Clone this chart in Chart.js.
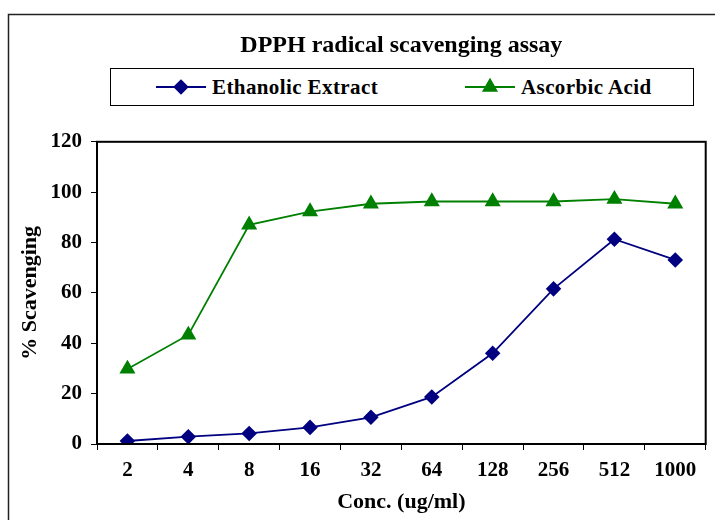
<!DOCTYPE html>
<html>
<head>
<meta charset="utf-8">
<script src="https://cdn.jsdelivr.net/npm/chart.js@4/dist/chart.umd.min.js"></script>
<style>
html, body { margin: 0; padding: 0; background: #fff; }
#wrap { position: relative; width: 715px; height: 520px; overflow: hidden; }
#legend { position: absolute; left: 110px; top: 68px; width: 582px; height: 36px; border: 1px solid #000; background: #fff; }
#legend .item { position: absolute; top: 0; height: 36px; display: flex; align-items: center; font: bold 21px "Liberation Serif", serif; letter-spacing: 0.4px; color: #000; white-space: nowrap; }
#legend .item canvas { margin-right: 6px; }
</style>
</head>
<body>
<div id="wrap">
<canvas id="lineChart" width="715" height="520"></canvas>
<div id="legend"></div>
</div>
<script>
var concLabels = ['2', '4', '8', '16', '32', '64', '128', '256', '512', '1000'];
var ethanolicExtract = [1.2, 2.9, 4.2, 6.6, 10.6, 18.7, 36, 61.6, 81.3, 73.1];
var ascorbicAcid = [29.8, 43.3, 87, 92.3, 95.4, 96.3, 96.3, 96.3, 97.2, 95.4];
var seriesNames = ['Ethanolic Extract', 'Ascorbic Acid'];
var legendLeft = [45, 354];

var serif = '"Liberation Serif", "Times New Roman", serif';

// outer chart frame + plot area box
var framePlugin = {
	id : 'framePlugin',
	beforeDraw : function(chart) {
		var ctx = chart.ctx;
		ctx.save();
		ctx.fillStyle = '#fff';
		ctx.fillRect(0, 0, chart.width, chart.height);
		ctx.strokeStyle = '#222';
		ctx.lineWidth = 1.5;
		ctx.strokeRect(8.5, 14.5, 1000, 1000);
		ctx.restore();
	},
	afterDatasetsDraw : function(chart) {
		var a = chart.chartArea;
		var ctx = chart.ctx;
		ctx.save();
		ctx.strokeStyle = '#000';
		ctx.lineWidth = 2;
		ctx.strokeRect(a.left, a.top, a.right - a.left, a.bottom - a.top);
		ctx.restore();
	}
};

var htmlLegend = {
	id : 'htmlLegend',
	afterUpdate : function(chart) {
		var box = document.getElementById('legend');
		box.innerHTML = '';
		var items = chart.options.plugins.legend.labels.generateLabels(chart);
		items.forEach(function(item, i) {
			var ds = chart.data.datasets[item.datasetIndex];
			var span = document.createElement('span');
			span.className = 'item';
			span.style.left = legendLeft[i] + 'px';
			var icon = document.createElement('canvas');
			icon.width = 50;
			icon.height = 18;
			var c = icon.getContext('2d');
			c.strokeStyle = ds.borderColor;
			c.lineWidth = ds.borderWidth;
			c.beginPath();
			c.moveTo(0, 9);
			c.lineTo(50, 9);
			c.stroke();
			c.fillStyle = ds.pointBackgroundColor;
			c.strokeStyle = ds.pointBorderColor;
			Chart.helpers.drawPoint(c, {
				pointStyle : ds.pointStyle,
				radius : ds.pointRadius,
				borderWidth : 1
			}, 25, 9);
			span.appendChild(icon);
			span.appendChild(document.createTextNode(item.text));
			box.appendChild(span);
		});
	}
};

var ctx = document.getElementById('lineChart');
var lineChart = new Chart(ctx, {
	type : 'line',
	data : {
		labels : concLabels,
		datasets : [ {
			label : seriesNames[0],
			data : ethanolicExtract,
			borderColor : '#000080',
			backgroundColor : '#000080',
			pointBackgroundColor : '#000080',
			pointBorderColor : '#000080',
			pointStyle : 'rectRot',
			pointRadius : 6.5,
			borderWidth : 1.8,
			tension : 0
		}, {
			label : seriesNames[1],
			data : ascorbicAcid,
			borderColor : '#008000',
			backgroundColor : '#008000',
			pointBackgroundColor : '#008000',
			pointBorderColor : '#008000',
			pointStyle : 'triangle',
			pointRadius : 7.5,
			borderWidth : 1.8,
			tension : 0
		} ]
	},
	options : {
		responsive : false,
		animation : false,
		layout : {
			padding : { left : 13, right : 9, top : 31, bottom : 0 }
		},
		plugins : {
			legend : { display : false },
			tooltip : { enabled : false },
			title : {
				display : true,
				fullSize : false,
				text : 'DPPH radical scavenging assay',
				color : '#000',
				font : { family : serif, size : 24, weight : 'bold' },
				padding : { top : 0, bottom : 82 }
			}
		},
		scales : {
			x : {
				offset : true,
				grid : {
					offset : true,
					drawOnChartArea : false,
					drawTicks : true,
					tickLength : 6,
					color : '#000'
				},
				border : { display : true, color : '#000', width : 2 },
				ticks : {
					color : '#000',
					padding : 8,
					maxRotation : 0,
					font : { family : serif, size : 21, weight : 'bold' }
				},
				title : {
					display : true,
					text : 'Conc. (ug/ml)',
					color : '#000',
					font : { family : serif, size : 22, weight : 'bold' },
					padding : { top : 4, bottom : 4 }
				},
				afterFit : function(scale) {
					scale.height = 76;
				}
			},
			y : {
				min : 0,
				max : 120,
				grid : {
					drawOnChartArea : false,
					drawTicks : true,
					tickLength : 6,
					color : '#000'
				},
				border : { display : true, color : '#000', width : 2 },
				ticks : {
					stepSize : 20,
					color : '#000',
					padding : 9,
					font : { family : serif, size : 21, weight : 'bold' }
				},
				title : {
					display : true,
					text : '% Scavenging',
					color : '#000',
					font : { family : serif, size : 22, weight : 'bold' },
					padding : { top : 4, bottom : 4 }
				},
				afterFit : function(scale) {
					scale.width = 84;
				}
			}
		}
	},
	plugins : [ framePlugin, htmlLegend ]
});
</script>
</body>
</html>
